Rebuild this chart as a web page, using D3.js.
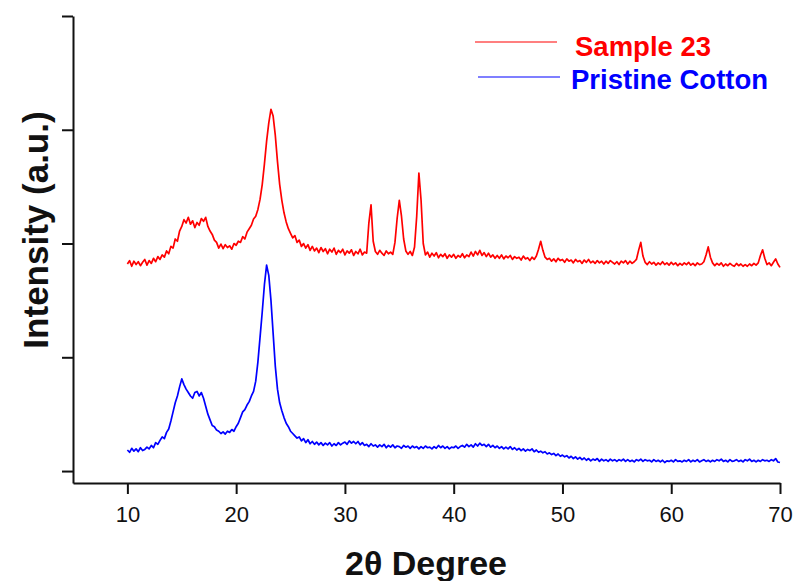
<!DOCTYPE html>
<html>
<head>
<meta charset="utf-8">
<script src="https://cdn.jsdelivr.net/npm/d3@7/dist/d3.min.js"></script>
<style>
  html, body { margin: 0; padding: 0; background: #fff; }
  svg { display: block; }
</style>
</head>
<body>
<svg id="chart" width="796" height="581"></svg>
<script>
// ---- DATA ----
const seriesNames = ["Sample 23", "Pristine Cotton"];
const seriesColors = ["#ff0000", "#0000ff"];
const thetaStart = 10;   // 2θ of first sample
const thetaStep = 0.2;   // sampling interval, degrees
const xMajorTicks = [10, 20, 30, 40, 50, 60, 70];
const xMinorTicks = [5, 15, 25, 35, 45, 55, 65];
const yMajorTicks = [0, 1000, 2000, 3000, 4000];
const yMinorTicks = [500, 1500, 2500, 3500];

// Sample 23 intensities (a.u.), 10.0° .. 70.0° every 0.2°
const sample23 = [
1820,1850,1800,1845,1815, 1840,1805,1835,1860,1810,
1850,1825,1870,1840,1885, 1860,1900,1880,1935,1910,
1975,1960,2040,2020,2110, 2150,2210,2180,2230,2170,
2200,2140,2185,2160,2220, 2195,2230,2150,2110,2080,
2030,2010,1960,1995,1955, 1990,1965,1980,1950,2000,
1985,2020,2010,2060,2040, 2100,2130,2160,2215,2240,
2300,2390,2520,2700,2900, 3060,3180,3120,2950,2720,
2520,2380,2270,2190,2130, 2090,2050,2070,2010,2030,
1975,2000,1960,1990,1940, 1975,1935,1960,1920,1965,
1930,1955,1910,1950,1925, 1960,1905,1940,1920,1950,
1900,1935,1915,1945,1895, 1930,1910,1950,1900,1925,
1915,2180,2340,2020,1930, 1905,1940,1915,1895,1935,
1910,1925,1905,2010,2220, 2380,2240,2040,1935,1905,
1930,1895,1970,2240,2620, 2380,2000,1900,1925,1880,
1915,1890,1920,1875,1905, 1885,1910,1870,1900,1880,
1905,1870,1895,1880,1910, 1875,1900,1885,1925,1890,
1930,1900,1940,1895,1920, 1885,1915,1880,1900,1870,
1895,1870,1900,1865,1890, 1875,1895,1860,1885,1870,
1880,1855,1890,1865,1875, 1850,1880,1860,1890,1950,
2020,1940,1880,1860,1870, 1845,1865,1840,1870,1850,
1860,1835,1865,1845,1855, 1830,1860,1840,1850,1825,
1855,1835,1860,1830,1845, 1825,1850,1830,1845,1820,
1845,1825,1850,1835,1820, 1840,1815,1845,1830,1850,
1820,1845,1825,1840,1860, 1940,2010,1890,1835,1815,
1840,1820,1835,1810,1830, 1815,1840,1815,1830,1810,
1835,1815,1830,1805,1825, 1810,1830,1815,1835,1810,
1825,1805,1830,1815,1820, 1840,1900,1970,1880,1830,
1805,1825,1810,1830,1800, 1820,1805,1825,1810,1800,
1825,1805,1820,1800,1815, 1800,1820,1805,1825,1810,
1830,1895,1945,1870,1815, 1830,1805,1835,1865,1820,
1790
];

// Pristine Cotton intensities (a.u.), 10.0° .. 70.0° every 0.2°
const pristineCotton = [
185,165,200,175,195, 170,205,180,190,210,
195,225,205,250,235, 270,300,285,340,370,
440,520,600,660,740, 810,760,720,690,660,
640,690,700,660,690, 640,570,500,450,400,
390,360,350,330,345, 325,350,340,365,350,
390,420,470,520,540, 580,610,660,700,790,
960,1180,1400,1640,1810, 1720,1500,1210,920,720,
600,530,470,420,390, 350,330,310,290,300,
265,285,250,275,240, 260,235,255,230,250,
225,245,230,250,220, 240,225,250,230,245,
255,235,265,245,260, 240,260,230,250,225,
235,215,240,220,230, 210,230,215,235,205,
225,210,230,205,220, 215,200,225,210,220,
200,220,205,215,195, 215,200,220,205,210,
195,215,200,225,205, 220,200,215,195,210,
205,220,200,215,225, 210,235,215,230,210,
240,220,245,225,235, 215,235,210,225,205,
220,200,215,195,210, 195,215,190,205,185,
200,180,195,175,190, 180,195,170,185,165,
175,160,170,150,160, 145,155,135,150,130,
140,125,135,115,130, 110,125,105,120,100,
115,95,110,90,105, 95,110,85,105,90,
100,85,105,90,100, 85,100,90,105,85,
100,85,95,80,100, 90,105,85,100,90,
95,80,100,85,95, 80,95,75,90,85,
95,80,100,85,90, 80,95,85,100,80,
95,85,100,80,90, 100,85,95,80,95,
85,100,90,105,85, 95,80,100,85,90,
100,85,95,80,100, 90,105,85,95,80,
95,85,100,90,95, 85,100,90,110,80,
75
];

// ---- CHART ----
const svg = d3.select("#chart");
const x = d3.scaleLinear().domain([5, 70]).range([73, 780]);
const y = d3.scaleLinear().domain([-105, 4000]).range([483, 16]);

const toPoints = arr => arr.map((v, i) => [thetaStart + i * thetaStep, v]);
const line = d3.line().x(d => x(d[0])).y(d => y(d[1]));

[sample23, pristineCotton].forEach((arr, k) => {
  svg.append("path")
    .datum(toPoints(arr))
    .attr("fill", "none")
    .attr("stroke", seriesColors[k])
    .attr("stroke-width", 1.7)
    .attr("stroke-linejoin", "round")
    .attr("d", line);
});

// axes
const axisFont = "'Liberation Sans', Arial, sans-serif";
const gx = svg.append("g").attr("transform", "translate(0,483)");
gx.call(d3.axisBottom(x).tickValues(xMinorTicks).tickSize(6).tickSizeOuter(0).tickFormat(""));
gx.call(d3.axisBottom(x).tickValues(xMajorTicks).tickSize(11).tickSizeOuter(0).tickPadding(12).tickFormat(d3.format("d")));
gx.selectAll("text").attr("font-size", 22).attr("font-family", axisFont).attr("fill", "#111");

const gy = svg.append("g").attr("transform", "translate(73,0)");
gy.call(d3.axisLeft(y).tickValues(yMinorTicks).tickSize(6).tickSizeOuter(0).tickFormat(""));
gy.call(d3.axisLeft(y).tickValues(yMajorTicks).tickSize(11).tickSizeOuter(0).tickFormat(""));

svg.selectAll(".domain, .tick line").attr("stroke", "#111").attr("stroke-width", 2);

// axis titles
svg.append("text")
  .attr("x", 426).attr("y", 575)
  .attr("text-anchor", "middle")
  .attr("font-family", axisFont).attr("font-weight", "bold").attr("font-size", 34)
  .attr("fill", "#111")
  .text("2θ Degree");

svg.append("text")
  .attr("transform", "translate(48,230) rotate(-90)")
  .attr("text-anchor", "middle")
  .attr("font-family", axisFont).attr("font-weight", "bold").attr("font-size", 35)
  .attr("fill", "#111")
  .text("Intensity (a.u.)");

// legend
const legendRows = [
  { x1: 475, x2: 557, ly: 42, tx: 575, ty: 56 },
  { x1: 478, x2: 560, ly: 77, tx: 571, ty: 89 }
];
seriesNames.forEach((name, k) => {
  const r = legendRows[k];
  svg.append("line")
    .attr("x1", r.x1).attr("x2", r.x2).attr("y1", r.ly).attr("y2", r.ly)
    .attr("stroke", seriesColors[k]).attr("stroke-width", 1.2);
  svg.append("text")
    .attr("x", r.tx).attr("y", r.ty)
    .attr("font-family", axisFont).attr("font-weight", "bold").attr("font-size", 27.5)
    .attr("fill", seriesColors[k])
    .text(name);
});
</script>
</body>
</html>
